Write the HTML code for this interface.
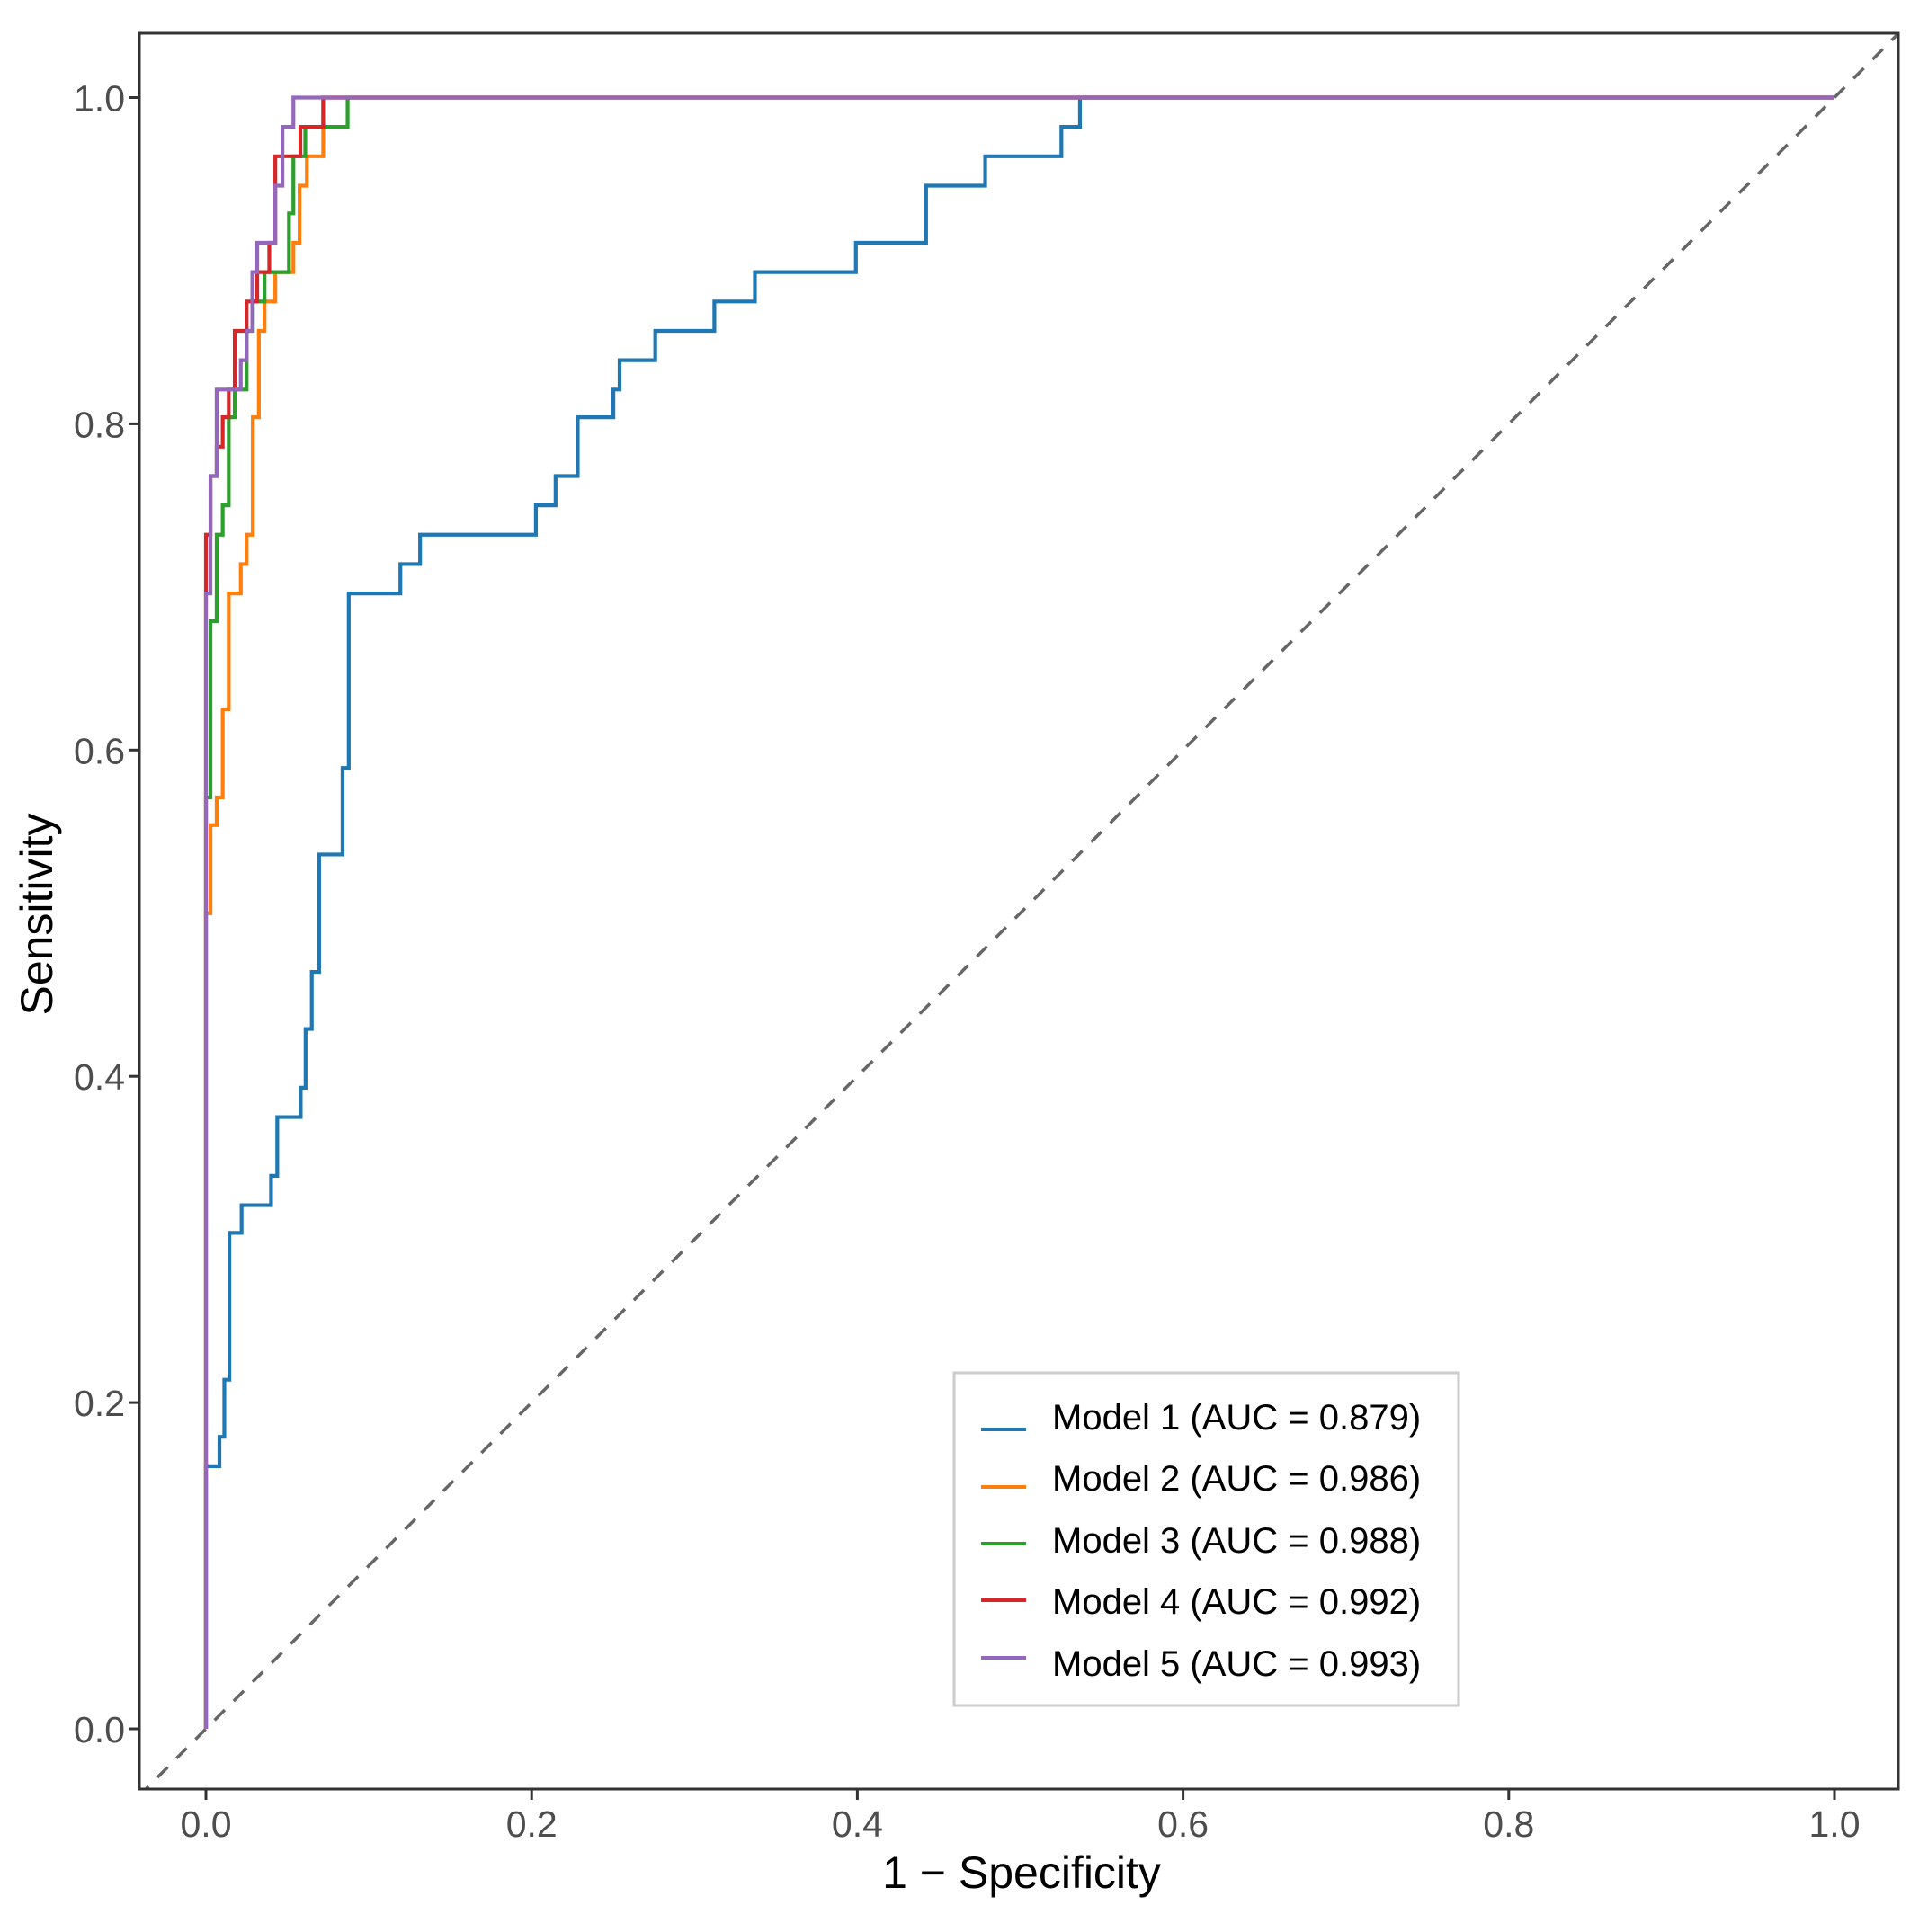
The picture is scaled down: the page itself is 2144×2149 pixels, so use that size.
<!DOCTYPE html>
<html><head><meta charset="utf-8"><style>html,body{margin:0;padding:0;background:#fff}</style></head>
<body>
<svg id="chart" width="2144" height="2144" xmlns="http://www.w3.org/2000/svg" font-family="Liberation Sans, sans-serif">
<rect x="0" y="0" width="2144" height="2144" fill="#fff"/>
<defs><clipPath id="panel"><rect x="155" y="37" width="1956" height="1953"/></clipPath></defs>
<g id="plot" clip-path="url(#panel)"></g>
<rect x="155" y="37" width="1956" height="1953" fill="none" stroke="#333" stroke-width="3"/>
<g id="axes"></g>
<text transform="translate(58,1017) rotate(-90)" text-anchor="middle" font-size="50" fill="#000">Sensitivity</text>
<text x="1136" y="2100" text-anchor="middle" font-size="50" fill="#000">1 − Specificity</text>
<g id="legend"></g>
</svg>
<script>
const modelNames = ["Model 1 (AUC = 0.879)","Model 2 (AUC = 0.986)","Model 3 (AUC = 0.988)","Model 4 (AUC = 0.992)","Model 5 (AUC = 0.993)"];
const colors = ["#1f77b4","#ff7f0e","#2ca02c","#d62728","#9467bd"];
const fpr1 = [0,0.0083,0.0113,0.0144,0.0219,0.040,0.0438,0.0582,0.0612,0.065,0.0695,0.0839,0.0877,0.1194,0.1315,0.2026,0.2147,0.2283,0.2502,0.254,0.2759,0.3122,0.3371,0.3991,0.4422,0.4785,0.5253,0.5367];
const tpr1 = [0.161,0.179,0.214,0.304,0.321,0.339,0.375,0.393,0.429,0.464,0.536,0.589,0.696,0.714,0.732,0.75,0.768,0.804,0.821,0.839,0.857,0.875,0.893,0.911,0.946,0.964,0.982,1.0];
const fpr2 = [0,0.0028,0.0066,0.0103,0.014,0.0214,0.025,0.0288,0.0325,0.036,0.0426,0.0537,0.0575,0.062,0.072];
const tpr2 = [0.5,0.554,0.571,0.625,0.696,0.714,0.732,0.804,0.857,0.875,0.893,0.911,0.946,0.964,1.0];
const fpr3 = [0,0.0028,0.0066,0.0103,0.014,0.0177,0.025,0.0288,0.036,0.051,0.0537,0.061,0.087];
const tpr3 = [0.571,0.679,0.732,0.75,0.804,0.821,0.857,0.875,0.893,0.929,0.964,0.982,1.0];
const fpr4 = [0,0.0028,0.0066,0.0103,0.014,0.0177,0.025,0.0315,0.0389,0.0426,0.058,0.072];
const tpr4 = [0.732,0.768,0.786,0.804,0.821,0.857,0.875,0.893,0.911,0.964,0.982,1.0];
const fpr5 = [0,0.0028,0.0066,0.0214,0.025,0.0285,0.0315,0.0426,0.047,0.0537];
const tpr5 = [0.696,0.768,0.821,0.839,0.857,0.893,0.911,0.946,0.982,1.0];
const xTicks = [0,0.2,0.4,0.6,0.8,1.0];
const yTicks = [0,0.2,0.4,0.6,0.8,1.0];
const xTickLabels = ["0.0","0.2","0.4","0.6","0.8","1.0"];
const yTickLabels = ["0.0","0.2","0.4","0.6","0.8","1.0"];

const NS="http://www.w3.org/2000/svg";
function X(v){return 229+v*1811;}
function Y(v){return 1923-v*1814.5;}
function mk(tag,attrs,parent){const e=document.createElementNS(NS,tag);for(const k in attrs)e.setAttribute(k,attrs[k]);parent.appendChild(e);return e;}
const plot=document.getElementById('plot'), axes=document.getElementById('axes'), legend=document.getElementById('legend');

const diag=mk('line',{x1:X(-0.1),y1:Y(-0.1),x2:X(1.1),y2:Y(1.1),stroke:'#666','stroke-width':3.5,'stroke-dasharray':'16 14'},plot);



const series=[[fpr1,tpr1],[fpr2,tpr2],[fpr3,tpr3],[fpr4,tpr4],[fpr5,tpr5]];
series.forEach((s,k)=>{
  const f=s[0],t=s[1];
  let d='M'+X(0)+','+Y(0);
  let cy=0;
  for(let i=0;i<f.length;i++){d+=' L'+X(f[i])+','+Y(cy)+' L'+X(f[i])+','+Y(t[i]);cy=t[i];}
  d+=' L'+X(1)+','+Y(cy);
  const p=mk('path',{d:d,fill:'none',stroke:colors[k],'stroke-width':4.2,'stroke-linejoin':'miter'},plot);
  
  
});

xTicks.forEach((v,i)=>{
  const tk=mk('line',{x1:X(v),y1:1990,x2:X(v),y2:2002,stroke:'#333','stroke-width':3},axes);
  
  
  const tx=mk('text',{x:X(v),y:2043,'text-anchor':'middle','font-size':41,fill:'#4d4d4d'},axes);
  tx.textContent=xTickLabels[i];
  
  
});
yTicks.forEach((v,i)=>{
  const tk=mk('line',{x1:143,y1:Y(v),x2:155,y2:Y(v),stroke:'#333','stroke-width':3},axes);
  
  
  const tx=mk('text',{x:139,y:Y(v)+15,'text-anchor':'end','font-size':41,fill:'#4d4d4d'},axes);
  tx.textContent=yTickLabels[i];
  
  
});

const lb=mk('rect',{x:1061,y:1527,width:561,height:370,fill:'#fff',stroke:'#ccc','stroke-width':3},legend);


const keyY=[1590,1654,1717,1780,1844];
const textY=[1590,1658,1727,1795,1864];
modelNames.forEach((n,k)=>{
  const g=mk('g',{},legend);
  
  
  mk('line',{x1:1091,y1:keyY[k],x2:1141,y2:keyY[k],stroke:colors[k],'stroke-width':4},g);
  const t=mk('text',{x:1170,y:textY[k],'font-size':40,fill:'#000'},g);
  t.textContent=n;
});
</script>
</body></html>
